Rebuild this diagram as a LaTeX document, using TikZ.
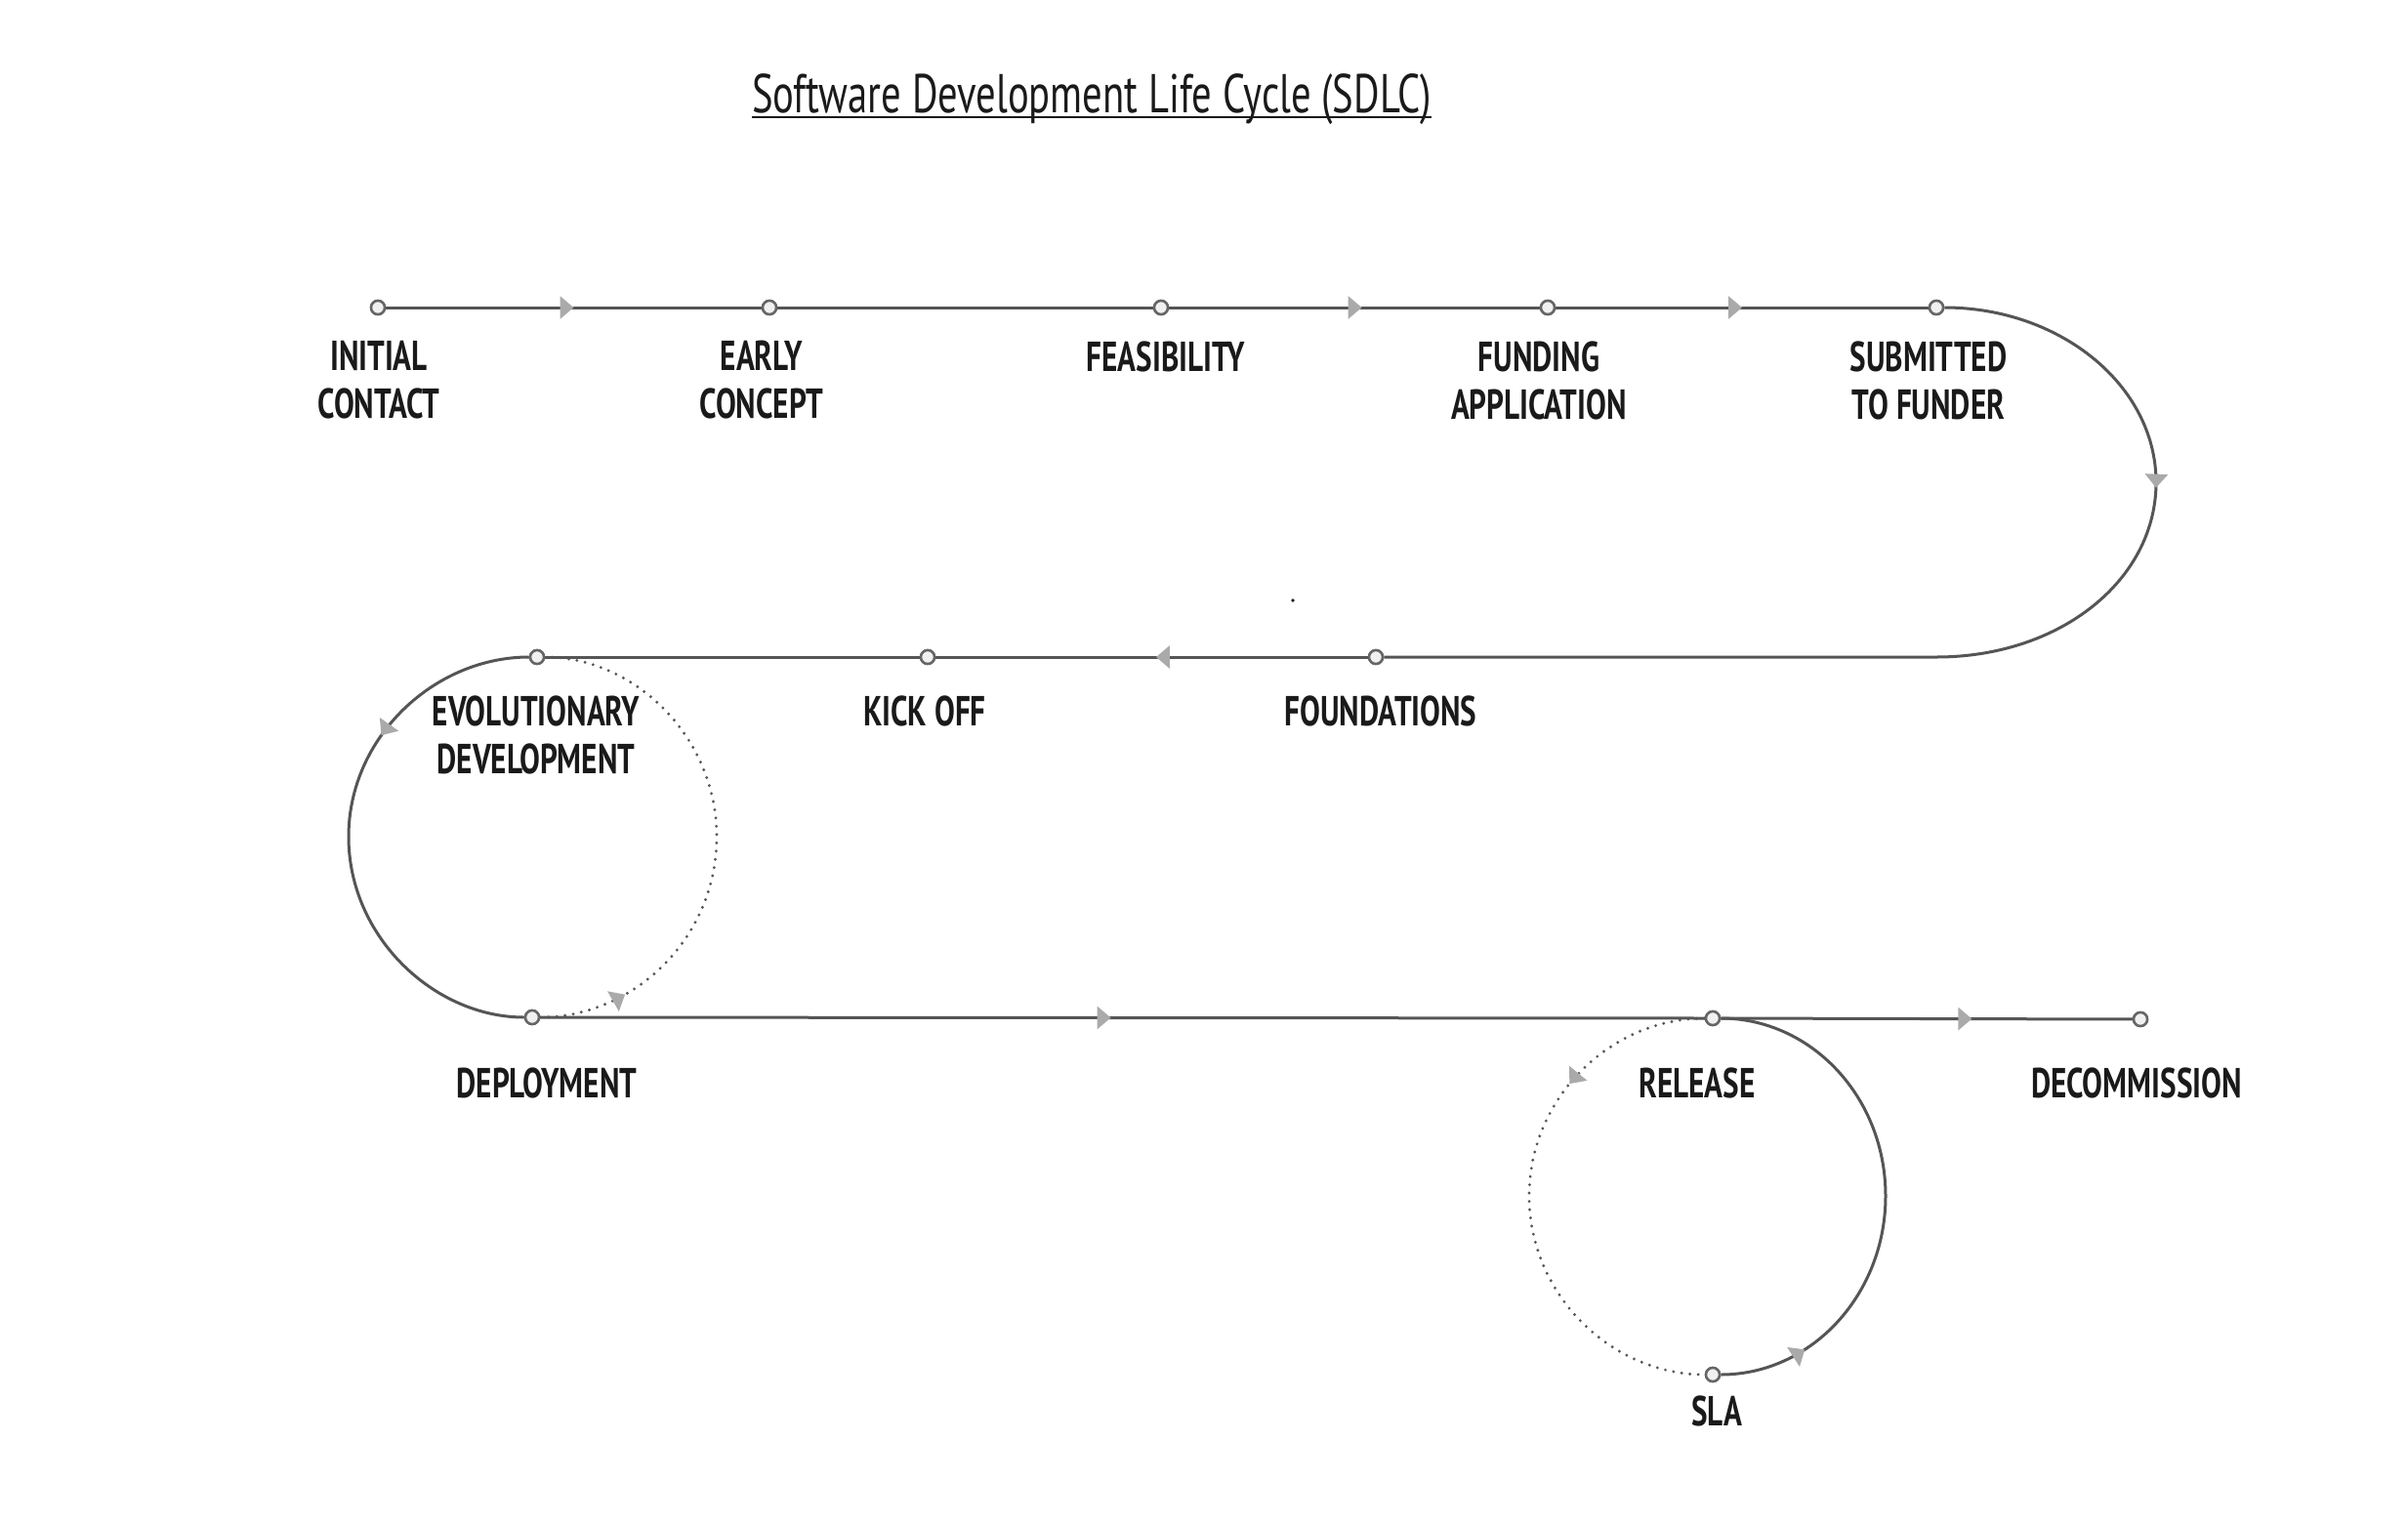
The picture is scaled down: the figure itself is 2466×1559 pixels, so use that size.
\documentclass[tikz,border=0pt]{standalone}
\usepackage{fontspec}
\setmainfont{PT Sans}
\newfontfamily\labfont{PT Sans}[FakeStretch=0.725]
\newfontfamily\titlefont{PT Sans}[FakeStretch=0.725]
\usetikzlibrary{arrows.meta,decorations.markings}
\definecolor{linegray}{HTML}{555555}
\definecolor{circgray}{HTML}{666666}
\definecolor{circfill}{HTML}{F0F0F0}
\definecolor{arrowgray}{HTML}{AAAAAA}
\definecolor{labblack}{HTML}{1A1A1A}
\tikzset{
  stage/.style={circle, draw=circgray, fill=circfill, line width=2.5pt, minimum size=14pt, inner sep=0pt},
  lab/.style={font=\labfont\bfseries\fontsize{43}{49}\selectfont, text=labblack, align=center, inner sep=0pt},
  flow/.style={draw=linegray, line width=3pt},
  dots/.style={draw=linegray, line width=3.2pt, dash pattern=on 0pt off 8.5pt, line cap=round},
  arrowat/.style={postaction={decorate}, decoration={markings, mark=at position #1 with {\arrow[color=arrowgray]{Triangle[length=14pt,width=23pt]}}}},
}
\begin{document}
\begin{tikzpicture}[x=1pt,y=-1pt]
\useasboundingbox[fill=white] (0,0) rectangle (2466,1559);

% title
\node[font=\titlefont\fontsize{56}{60}\selectfont, text=labblack, anchor=base, inner sep=0pt] (title) at (1118,115) {Software Development Life Cycle (SDLC)};
\draw[labblack, line width=2.5pt] ([yshift=-5pt]title.base west) -- ([yshift=-5pt]title.base east);

% stages
\node[stage] (ic)  at (387,315) {};
\node[stage] (ec)  at (788,315) {};
\node[stage] (fe)  at (1189,315) {};
\node[stage] (fa)  at (1585,315) {};
\node[stage] (sf)  at (1983,315) {};
\node[stage] (fo)  at (1409,673) {};
\node[stage] (ko)  at (950,673) {};
\node[stage] (evo) at (550,673) {};
\node[stage] (dep) at (545,1042) {};
\node[stage] (rel) at (1754,1043) {};
\node[stage] (dec) at (2192,1044) {};
\node[stage] (sla) at (1754,1408) {};

% connectors
\path[flow, arrowat=0.5] (ic) -- (ec);
\path[flow] (ec) -- (fe);
\path[flow, arrowat=0.52] (fe) -- (fa);
\path[flow, arrowat=0.5] (fa) -- (sf);
\path[flow, arrowat=0.265] (sf) .. controls (2110,315) and (2208,395) .. (2208,494)
   .. controls (2208,594) and (2110,673) .. (1983,673) -- (fo);
\path[flow, arrowat=0.49] (fo) -- (ko);
\path[flow] (ko) -- (evo);
\path[flow, arrowat=0.31] (evo) .. controls (445,673) and (357,755) .. (357,857)
   .. controls (357,960) and (445,1042) .. (dep);
\path[dots, arrowat=0.16] (dep) .. controls (650,1042) and (734,960) .. (734,857)
   .. controls (734,755) and (650,673) .. (evo);
\path[flow, arrowat=0.49] (dep) -- (rel);
\path[flow, arrowat=0.61] (rel) -- (dec);
\path[dots, arrowat=0.28] (rel) .. controls (1650,1043) and (1566,1124) .. (1566,1225)
   .. controls (1566,1326) and (1650,1408) .. (sla);
\path[flow, arrowat=0.165] (sla) .. controls (1855,1408) and (1931,1326) .. (1931,1225)
   .. controls (1931,1124) and (1855,1043) .. (rel);

% redraw stage circles on top
\foreach \n in {ic,ec,fe,fa,sf,fo,ko,evo,dep,rel,dec,sla}
  \draw[circgray, fill=circfill, line width=2.5pt] (\n.center) circle (7);

% labels
\node[lab] (l-ic)  at (388,389.5)  {INITIAL\\CONTACT};
\node[lab] (l-ec)  at (780,389.5)  {EARLY\\CONCEPT};
\node[lab] (l-fe)  at (1194,365)   {FEASIBILITY};
\node[lab] (l-fa)  at (1576,389.5) {FUNDING\\APPLICATION};
\node[lab] (l-sf)  at (1975,389.5) {SUBMITTED\\TO FUNDER};
\node[lab] (l-evo) at (549,752.5)  {EVOLUTIONARY\\DEVELOPMENT};
\node[lab] (l-ko)  at (947,728)    {KICK OFF};
\node[lab] (l-fo)  at (1414,728)   {FOUNDATIONS};
\node[lab] (l-dep) at (560,1109)   {DEPLOYMENT};
\node[lab] (l-rel) at (1738,1109)  {RELEASE};
\node[lab] (l-dec) at (2188,1109)  {DECOMMISSION};
\node[lab] (l-sla) at (1758,1445)  {SLA};

% stray dot
\fill[labblack] (1324,615) circle (1.8);
\end{tikzpicture}
\end{document}
